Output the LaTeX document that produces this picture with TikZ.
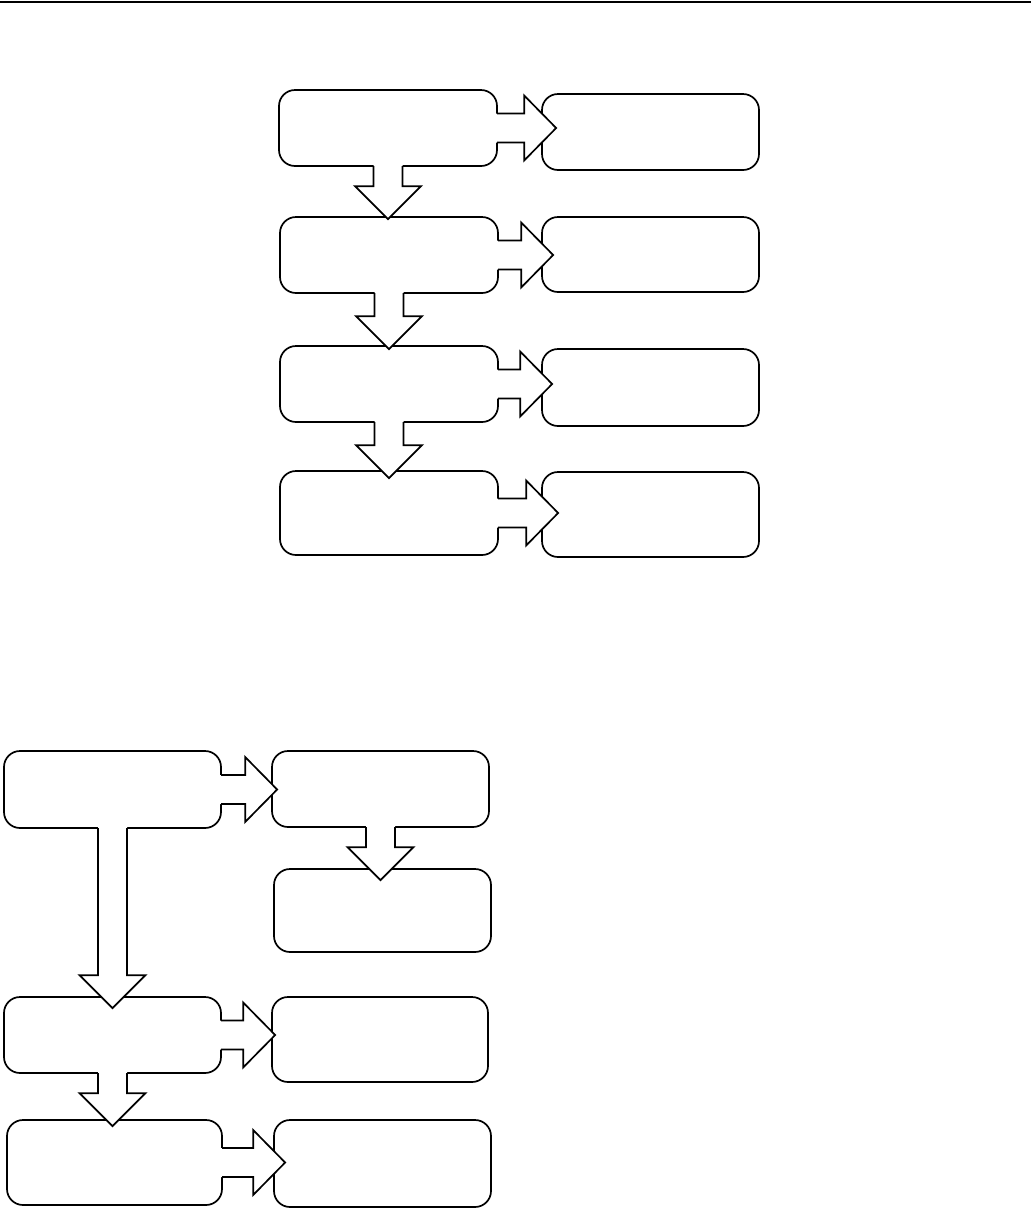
\documentclass[tikz,border=0pt]{standalone}
\usetikzlibrary{calc}
\tikzset{
  box/.style={draw, line width=1.7pt, rounded corners=16pt, fill=white, inner sep=0pt},
  blk/.style={line width=1.7pt, line join=miter},
}
\newcommand\bx[5]{\node[box, minimum width={#4-#2}, minimum height={#5-#3}] (#1) at ({(#2+#4)/2},{(#3+#5)/2}) {};}
% right block arrow: source node, target node, tip overlap into target
\newcommand\rblock[3]{%
  \fill[white] let \p1=(#1.east), \p2=(#2.west) in
    (\x1-2pt,\y1+14.5pt) -- (\x2+#3pt-32pt,\y1+14.5pt) -- (\x2+#3pt-32pt,\y1+32.5pt) -- (\x2+#3pt,\y1)
    -- (\x2+#3pt-32pt,\y1-32.5pt) -- (\x2+#3pt-32pt,\y1-14.5pt) -- (\x1-2pt,\y1-14.5pt) -- cycle;
  \draw[blk] let \p1=(#1.east), \p2=(#2.west) in
    (\x1-0.8pt,\y1+14.5pt) -- (\x2+#3pt-32pt,\y1+14.5pt) -- (\x2+#3pt-32pt,\y1+32.5pt) -- (\x2+#3pt,\y1)
    -- (\x2+#3pt-32pt,\y1-32.5pt) -- (\x2+#3pt-32pt,\y1-14.5pt) -- (\x1-0.8pt,\y1-14.5pt);}
% down block arrow
\newcommand\dblock[3]{%
  \fill[white] let \p1=(#1.south), \p2=(#2.north) in
    (\x1-14.5pt,\y1+2pt) -- (\x1-14.5pt,\y2-#3pt+33pt) -- (\x1-33pt,\y2-#3pt+33pt) -- (\x1,\y2-#3pt)
    -- (\x1+33pt,\y2-#3pt+33pt) -- (\x1+14.5pt,\y2-#3pt+33pt) -- (\x1+14.5pt,\y1+2pt) -- cycle;
  \draw[blk] let \p1=(#1.south), \p2=(#2.north) in
    (\x1-14.5pt,\y1+0.8pt) -- (\x1-14.5pt,\y2-#3pt+33pt) -- (\x1-33pt,\y2-#3pt+33pt) -- (\x1,\y2-#3pt)
    -- (\x1+33pt,\y2-#3pt+33pt) -- (\x1+14.5pt,\y2-#3pt+33pt) -- (\x1+14.5pt,\y1+0.8pt);}
\begin{document}
\begin{tikzpicture}[x=1pt,y=-1pt]
\useasboundingbox (0,0) rectangle (1031,1211);
\draw[line width=2pt] (0,1.5) -- (1031,1.5);
% upper diagram
\bx{L1}{279}{90}{497}{166}
\bx{L2}{280}{217}{498}{293}
\bx{L3}{280}{346}{498}{422}
\bx{L4}{280}{471}{498}{555}
\bx{R1}{542}{94}{759}{170}
\bx{R2}{542}{217}{759}{292}
\bx{R3}{542}{349}{759}{426}
\bx{R4}{542}{472}{759}{557}
% lower diagram
\bx{B1}{4}{751}{221}{828}
\bx{RB1}{272}{751}{489}{827}
\bx{RB2}{274}{869}{491}{952}
\bx{B2}{4}{997}{221}{1073}
\bx{RB3}{272}{997}{488}{1082}
\bx{B3}{7}{1120}{222}{1205}
\bx{RB4}{274}{1120}{491}{1207}
% arrows
\rblock{L1}{R1}{15}
\rblock{L2}{R2}{12}
\rblock{L3}{R3}{11}
\rblock{L4}{R4}{17}
\dblock{L1}{L2}{3}
\dblock{L2}{L3}{4}
\dblock{L3}{L4}{8}
\rblock{B1}{RB1}{6}
\rblock{B2}{RB3}{4}
\rblock{B3}{RB4}{12}
\dblock{RB1}{RB2}{12}
\dblock{B1}{B2}{12}
\dblock{B2}{B3}{7}
\end{tikzpicture}
\end{document}
